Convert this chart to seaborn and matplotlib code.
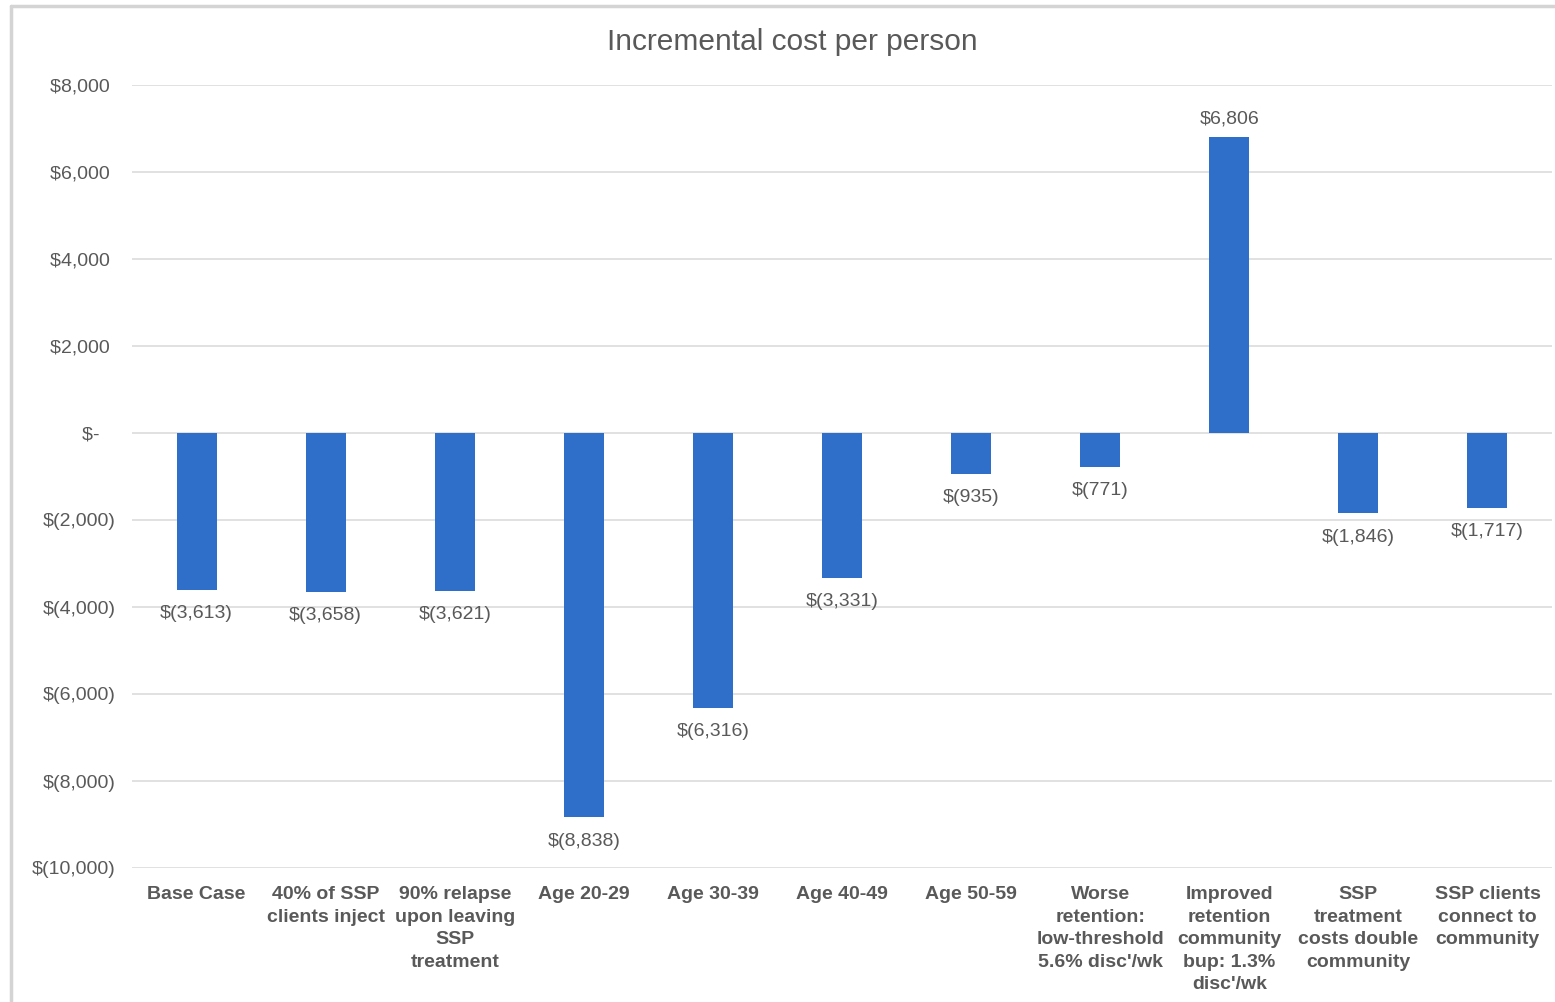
import matplotlib
matplotlib.use("Agg")
import matplotlib.pyplot as plt
from matplotlib.lines import Line2D
from matplotlib.ticker import FuncFormatter
import seaborn as sns
import pandas as pd

# Scenario labels (wrapped as shown under each bar)
scenarios = [
    "Base Case",
    "40% of SSP\nclients inject",
    "90% relapse\nupon leaving\nSSP\ntreatment",
    "Age 20-29",
    "Age 30-39",
    "Age 40-49",
    "Age 50-59",
    "Worse\nretention:\nlow-threshold\n5.6% disc'/wk",
    "Improved\nretention\ncommunity\nbup: 1.3%\ndisc'/wk",
    "SSP\ntreatment\ncosts double\ncommunity",
    "SSP clients\nconnect to\ncommunity",
]

# Incremental cost per person, USD
incremental_cost = [-3613, -3658, -3621, -8838, -6316, -3331, -935, -771, 6806, -1846, -1717]

y_ticks = [8000, 6000, 4000, 2000, 0, -2000, -4000, -6000, -8000, -10000]

BAR_COLOR = "#2F6FC9"
TEXT_COLOR = "#595959"
GRID_COLOR = "#D9D9D9"


def accounting(v, trailing=True):
    """Excel-style accounting format: $1,234 / $(1,234) / $-"""
    if v == 0:
        return "$-   " if trailing else "$-"
    if v < 0:
        return f"$({abs(v):,.0f})"
    return f"${v:,.0f} " if trailing else f"${v:,.0f}"


sns.set_theme(style="white")
plt.rcParams["font.family"] = ["Liberation Sans", "DejaVu Sans"]

df = pd.DataFrame({"scenario": scenarios, "cost": incremental_cost})

fig = plt.figure(figsize=(15.55, 10.02), dpi=100)
ax = fig.add_axes([132 / 1555, 1 - 868 / 1002, (1552 - 132) / 1555, (868 - 85) / 1002])

sns.barplot(data=df, x="scenario", y="cost", order=scenarios, color=BAR_COLOR,
            saturation=1, width=0.31, linewidth=0, edgecolor=BAR_COLOR, ax=ax, zorder=3)

ax.set_xlim(-0.5, len(scenarios) - 0.5)
ax.set_ylim(-10000, 8000)
ax.set_yticks(y_ticks)
ax.yaxis.set_major_formatter(FuncFormatter(lambda v, p: accounting(v)))

ax.grid(axis="y", color=GRID_COLOR, linewidth=1.1, zorder=0)
ax.grid(axis="x", visible=False)
for s in ax.spines.values():
    s.set_visible(False)

ax.tick_params(axis="y", length=0, pad=12, labelsize=14, labelcolor=TEXT_COLOR)
ax.tick_params(axis="x", length=0, pad=13, labelsize=14, labelcolor=TEXT_COLOR)
for lbl in ax.get_xticklabels():
    lbl.set_fontweight("bold")
    lbl.set_linespacing(1.43)
    lbl.set_verticalalignment("top")

ax.set_xlabel("")
ax.set_ylabel("")

# value labels at the end of each bar: below negative bars, above positive ones
cont = ax.containers[0]
neg_labels = [accounting(v, trailing=False) if v < 0 else "" for v in incremental_cost]
pos_labels = [accounting(v, trailing=False) if v >= 0 else "" for v in incremental_cost]
ax.bar_label(cont, labels=neg_labels, padding=11, fontsize=14, color=TEXT_COLOR)
ax.bar_label(cont, labels=pos_labels, padding=7, fontsize=14, color=TEXT_COLOR)

fig.text(792 / 1555, 1 - 42 / 1002, "Incremental cost per person", ha="center", va="center",
         fontsize=21.5, color=TEXT_COLOR)

# thin chart-area frame (top and left edges)
fig.add_artist(Line2D([11 / 1555, 1.0], [1 - 6 / 1002, 1 - 6 / 1002],
                      transform=fig.transFigure, color="#D4D4D4", linewidth=2.5))
fig.add_artist(Line2D([11 / 1555, 11 / 1555], [0.0, 1 - 6 / 1002],
                      transform=fig.transFigure, color="#D4D4D4", linewidth=2.5))

fig.savefig("out.png", dpi=100, facecolor="white")
